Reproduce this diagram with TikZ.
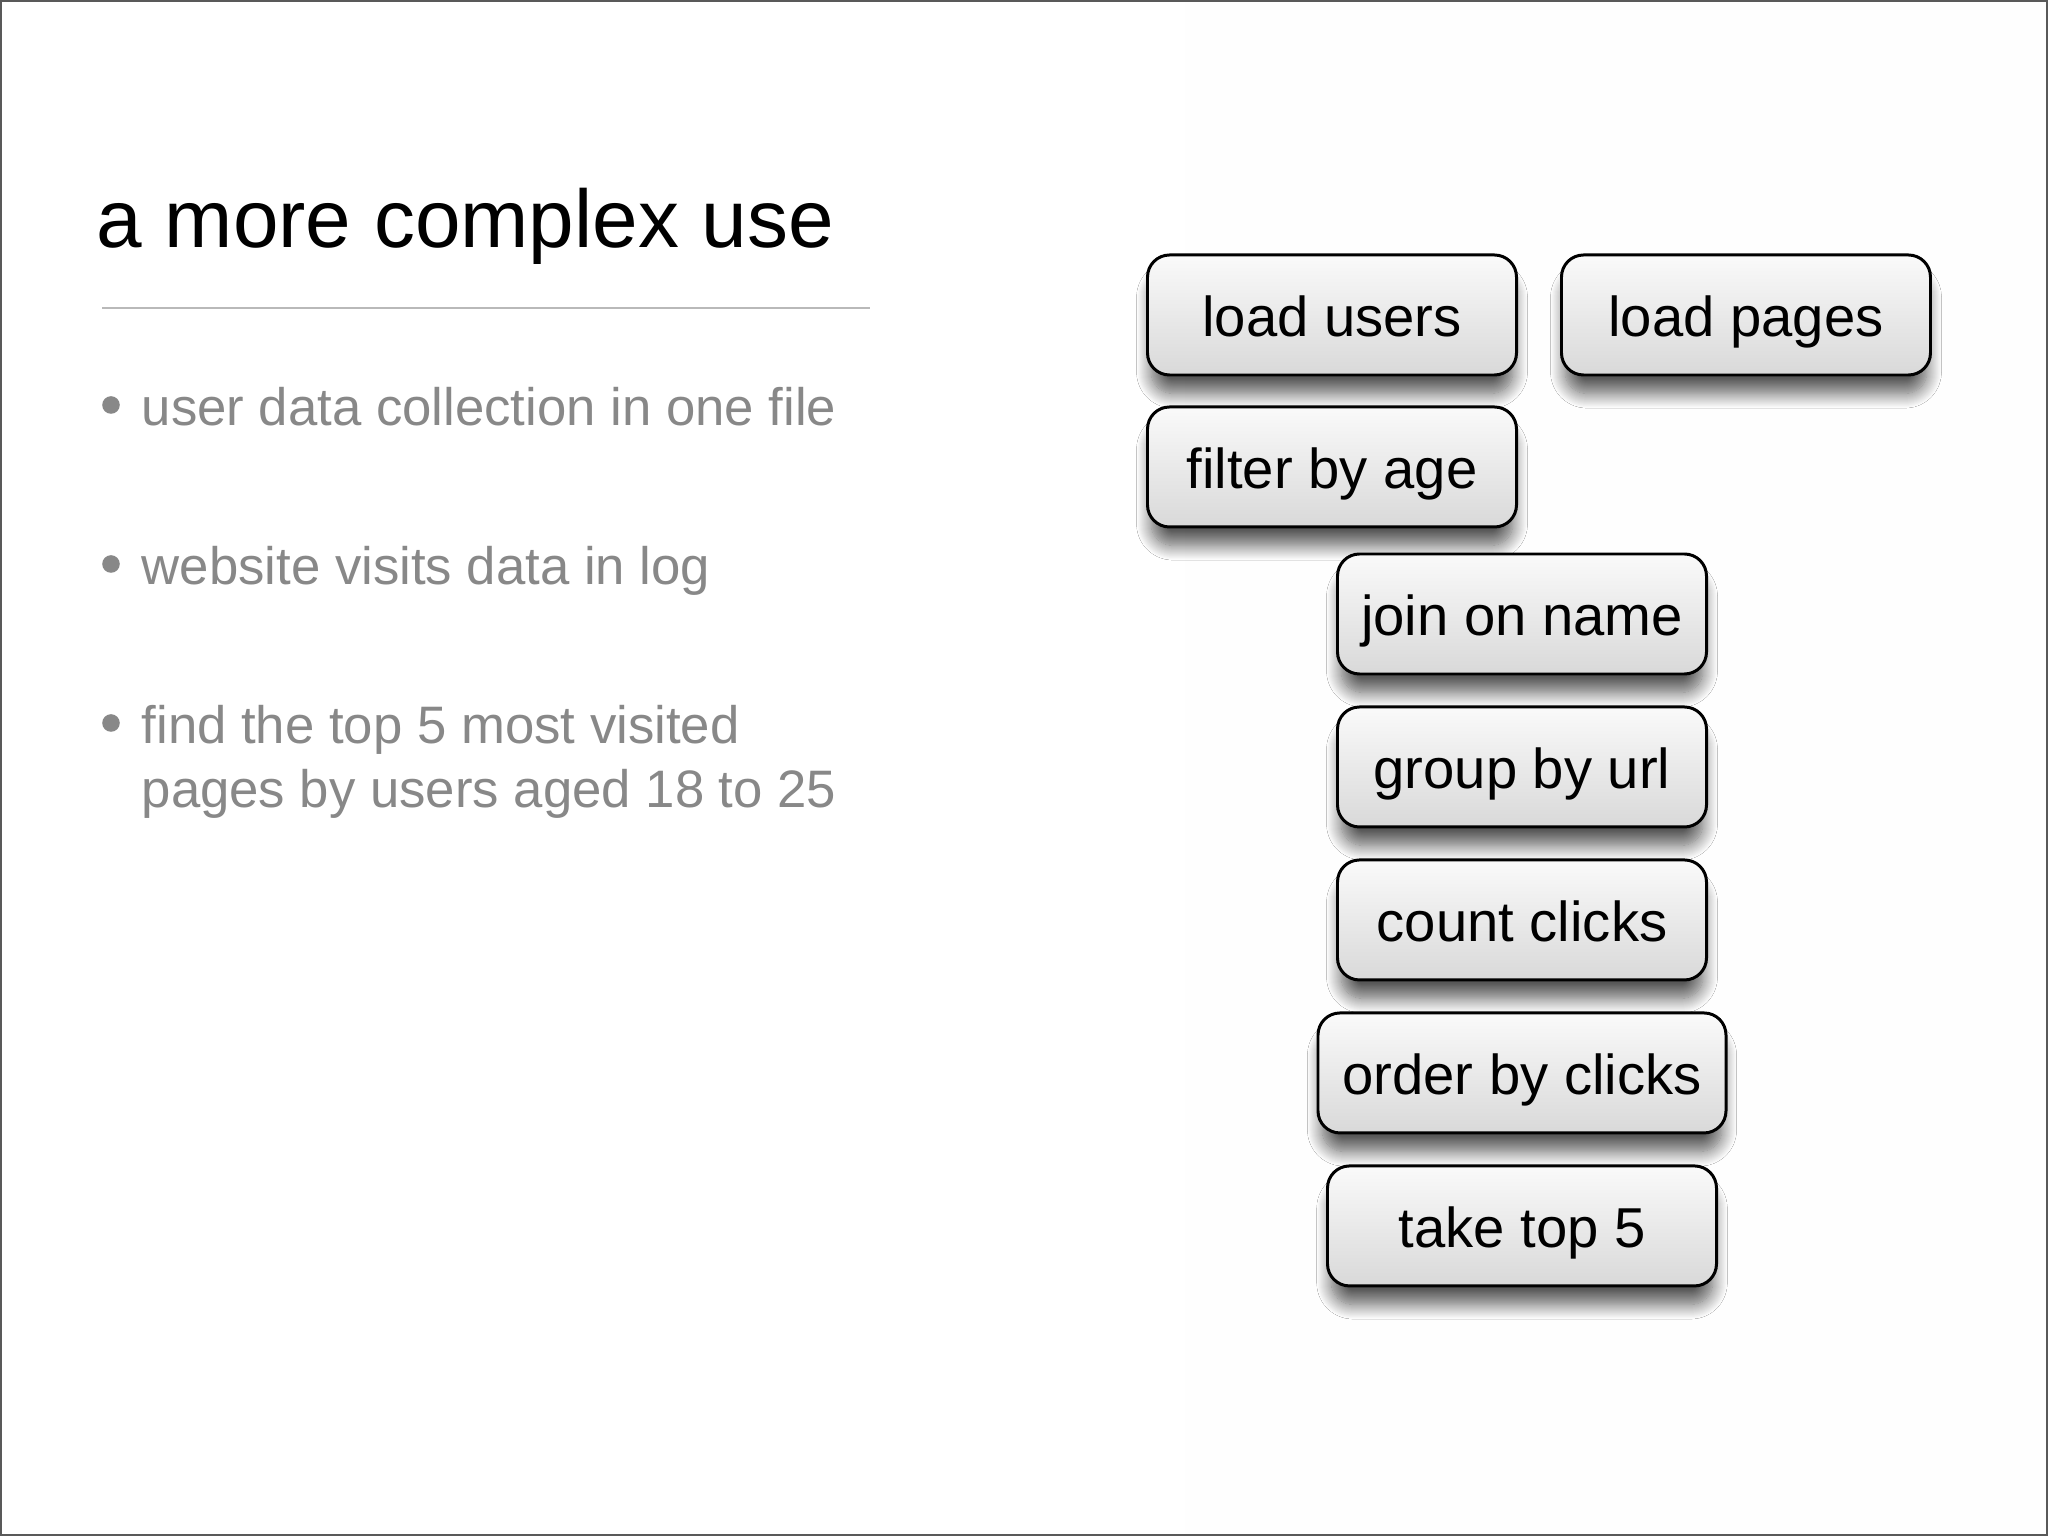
\documentclass[tikz,border=0pt]{standalone}
\usepackage{fontspec}
\setmainfont{Liberation Sans}
\usetikzlibrary{positioning,shadows.blur}
\definecolor{bulletgray}{HTML}{888888}

\begin{document}
\begin{tikzpicture}[
		opbox/.style = {draw = black, line width = 0.85pt, rounded corners = 0.22cm, top color = gray!4, bottom color = gray!30, minimum width = 3.69cm, minimum height = 1.2cm, inner sep = 0pt, text height = 12.4pt, text depth = 0pt, font = \fontsize{16}{19}\selectfont, blur shadow = {shadow xshift = 0cm, shadow yshift = -0.2cm, shadow scale = 0.98, shadow blur radius = 0.15cm, shadow blur steps = 15, shadow opacity = 65}},
		bullettext/.style = {anchor = base west, inner sep = 0pt, text = bulletgray, font = \fontsize{15}{18}\selectfont}
	]
				%slide border and background
				\fill[white] (0,0) rectangle (20.48,-15.36);
				\fill[gray!1] (11.85,0) rectangle (20.48,-15.36);
				\draw[black!65, line width = 0.02cm] (0.01,-0.01) rectangle (20.47,-15.35);
				%title and rule
				\node[anchor = base west, inner sep = 0pt, font = \fontsize{23.3}{28}\selectfont] (title) at (0.96,-2.48) {a more complex use};
				\draw[gray!55, line width = 0.4pt] (1.02,-3.08) -- (8.70,-3.08);
				%bullets
				\fill[bulletgray] (1.11,-4.05) circle (0.088);
				\node[bullettext] (b1) at (1.41,-4.26) {user data collection in one file};
				\fill[bulletgray] (1.11,-5.64) circle (0.088);
				\node[bullettext] (b2) at (1.41,-5.85) {website visits data in log};
				\fill[bulletgray] (1.11,-7.23) circle (0.088);
				\node[bullettext] (b3) at (1.41,-7.44) {find the top 5 most visited};
				\node[bullettext] (b3b) at (1.41,-8.08) {pages by users aged 18 to 25};
				%operator boxes
				\node[opbox] (loadusers) at (13.32,-3.15) {load users};
				\node[opbox, right = 0.42cm of loadusers] (loadpages) {load pages};
				\node[opbox, below = 0.29cm of loadusers] (filter) {filter by age};
				\node[opbox] (join) at (15.22,-6.14) {join on name};
				\node[opbox, below = 0.3cm of join] (group) {group by url};
				\node[opbox, below = 0.3cm of group] (count) {count clicks};
				\node[opbox, below = 0.3cm of count, minimum width = 4.08cm] (order) {order by clicks};
				\node[opbox, below = 0.3cm of order, minimum width = 3.89cm] (take) {take top 5};
			\end{tikzpicture}
\end{document}
